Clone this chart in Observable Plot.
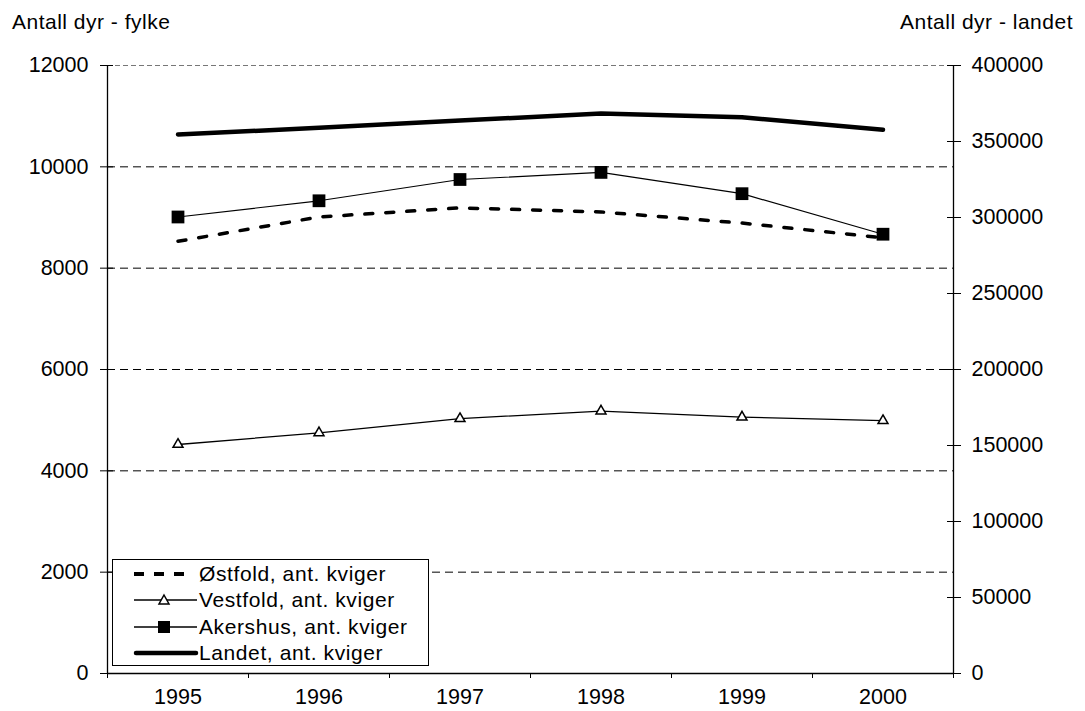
<!DOCTYPE html>
<html>
<head>
<meta charset="utf-8">
<script src="https://cdn.jsdelivr.net/npm/d3@7"></script>
<script src="https://cdn.jsdelivr.net/npm/@observablehq/plot@0.6"></script>
<style>
  html, body { margin: 0; padding: 0; background: white; }
  #wrap { position: relative; width: 1085px; height: 711px; font-family: "Liberation Sans", Arial, sans-serif; color: black; }
  #head { position: relative; height: 40px; font-size: 21px; line-height: 21px; letter-spacing: 0.5px; }
  #head .l { position: absolute; left: 12px; top: 11px; }
  #head .r { position: absolute; right: 12px; top: 11px; }
  #legend { position: absolute; left: 112px; top: 559px; width: 317px; height: 107px; box-sizing: border-box;
            border: 1px solid black; background: white; padding-top: 1px; font-size: 21px; letter-spacing: 0.6px; }
  #legend .row { height: 26.3px; display: flex; align-items: center; }
  #legend svg { width: 66px; height: 26px; margin-left: 20px; flex: none; }
  #legend span { margin-left: 0px; white-space: nowrap; }
</style>
</head>
<body>
<div id="wrap">
  <div id="head"><span class="l">Antall dyr - fylke</span><span class="r">Antall dyr - landet</span></div>
  <div id="chart"></div>
  <div id="legend"></div>
</div>
<script>
const years = [1995, 1996, 1997, 1998, 1999, 2000];
const ostfold = [8530, 9010, 9190, 9110, 8890, 8600];
const vestfold = [4520, 4750, 5030, 5180, 5060, 4990];
const akershus = [9010, 9330, 9750, 9890, 9470, 8670];
const landet = [354600, 359000, 363800, 368400, 366000, 357700];
const leftTicks = [0, 2000, 4000, 6000, 8000, 10000, 12000];
const rightTicks = [0, 50000, 100000, 150000, 200000, 250000, 300000, 350000, 400000];
const seriesNames = ["Østfold, ant. kviger", "Vestfold, ant. kviger", "Akershus, ant. kviger", "Landet, ant. kviger"];

const leftMax = leftTicks[leftTicks.length - 1];
const rightMax = rightTicks[rightTicks.length - 1];
const k = leftMax / rightMax;
const rows = years.map((year, i) => ({year, ostfold: ostfold[i], vestfold: vestfold[i], akershus: akershus[i], landet: landet[i] * k}));
const x0 = years[0] - 0.5, x1 = years[years.length - 1] + 0.5;
const boundaries = d3.range(x0, x1 + 0.01, 1);

const chart = Plot.plot({
  width: 1085, height: 671,
  marginLeft: 107, marginRight: 132, marginTop: 25, marginBottom: 38,
  x: {type: "linear", domain: [x0, x1]},
  y: {domain: [0, leftMax]},
  style: {fontFamily: '"Liberation Sans", Arial, sans-serif', fontSize: "21.5px", color: "black", background: "white", overflow: "visible"},
  marks: [
    Plot.ruleY(leftTicks.filter(d => d > 0 && d < leftMax), {stroke: "black", strokeDasharray: "8,5", strokeWidth: 1}),
    Plot.ruleY([leftMax], {stroke: "#777", strokeDasharray: "5,3", strokeWidth: 1}),
    Plot.ruleX([x0, x1], {stroke: "black", strokeWidth: 1.3}),
    Plot.ruleY([0], {stroke: "black", strokeWidth: 1.3}),
    Plot.axisY({ticks: leftTicks, tickSize: 13, dx: 6, tickFormat: () => "", label: null}),
    Plot.axisY({ticks: leftTicks, tickSize: 0, tickPadding: 19, tickFormat: d => String(d), label: null}),
    Plot.axisY({anchor: "right", ticks: rightTicks.map(d => d * k), tickSize: 14, dx: -7, tickFormat: () => "", label: null}),
    Plot.axisY({anchor: "right", ticks: rightTicks.map(d => d * k), tickSize: 0, tickPadding: 18, tickFormat: d => String(Math.round(d / k)), label: null}),
    Plot.axisX({ticks: boundaries, tickSize: 5, tickFormat: () => "", label: null}),
    Plot.axisX({ticks: years, tickSize: 0, tickPadding: 15, tickFormat: d => String(d), label: null}),
    Plot.line(rows, {x: "year", y: "landet", stroke: "black", strokeWidth: 4.5, strokeLinecap: "round", strokeLinejoin: "round"}),
    Plot.line(rows, {x: "year", y: "ostfold", stroke: "black", strokeWidth: 3.5, strokeDasharray: "8,13"}),
    Plot.line(rows, {x: "year", y: "vestfold", stroke: "black", strokeWidth: 1.3}),
    Plot.dot(rows, {x: "year", y: "vestfold", symbol: "triangle", r: 3.7, fill: "white", stroke: "black", strokeWidth: 1.5}),
    Plot.line(rows, {x: "year", y: "akershus", stroke: "black", strokeWidth: 1.2}),
    Plot.dot(rows, {x: "year", y: "akershus", symbol: "square", r: 7.2, fill: "black", stroke: "none"})
  ]
});
document.getElementById("chart").appendChild(chart);

const swatches = [
  `<line x1="1" x2="51" y1="13" y2="13" stroke="black" stroke-width="4" stroke-dasharray="10,10"/>`,
  `<line x1="1" x2="64" y1="13" y2="13" stroke="black" stroke-width="1.3"/><path d="M31,8 L36,17 L26,17 Z" fill="white" stroke="black" stroke-width="1.5"/>`,
  `<line x1="1" x2="64" y1="13" y2="13" stroke="black" stroke-width="1.3"/><rect x="25" y="7" width="12" height="12" fill="black"/>`,
  `<line x1="3" x2="63" y1="13" y2="13" stroke="black" stroke-width="4.5" stroke-linecap="round"/>`
];
document.getElementById("legend").innerHTML = seriesNames.map((name, i) =>
  `<div class="row"><svg viewBox="0 0 66 26">${swatches[i]}</svg><span>${name}</span></div>`).join("");
</script>
</body>
</html>
